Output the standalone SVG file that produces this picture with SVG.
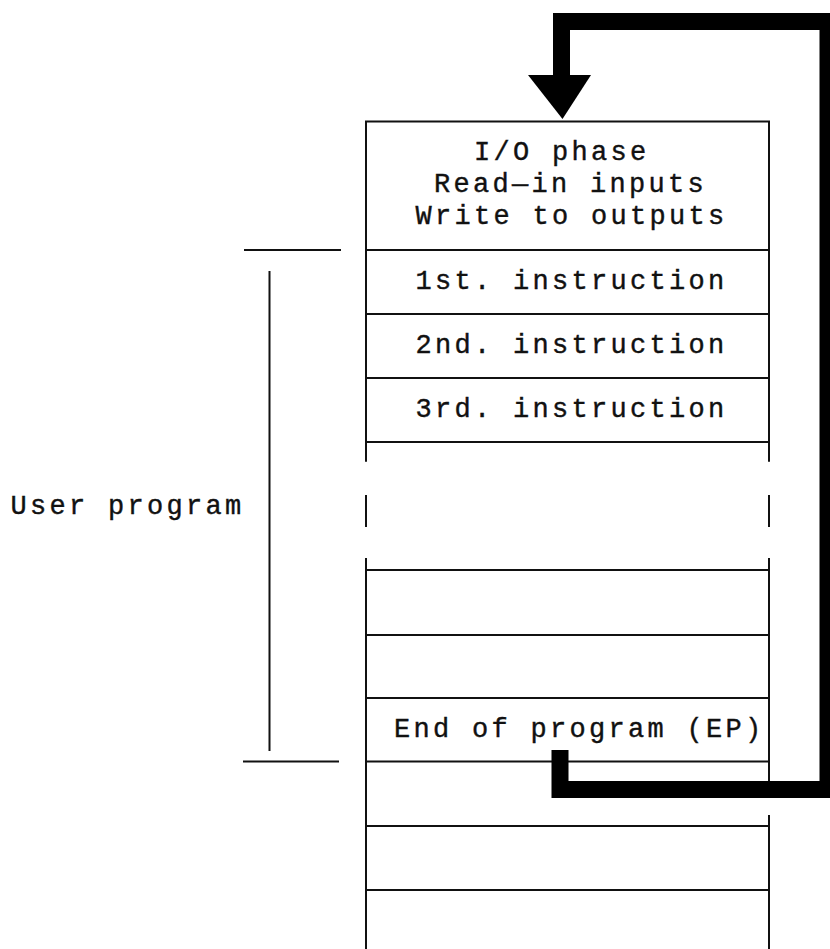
<svg xmlns="http://www.w3.org/2000/svg" width="830" height="949" viewBox="0 0 830 949">
<style>
  .t { font-family: "Liberation Mono", "Courier New", monospace; font-size: 27px; letter-spacing: 3.3px; fill: #111; stroke: #111; stroke-width: 0.4px; }
  .ln { stroke: #111; stroke-width: 2; fill: none; }
  .thin { stroke: #111; stroke-width: 2; fill: none; }
  .loop { stroke: #000; stroke-width: 17; fill: none; stroke-linejoin: miter; stroke-linecap: butt; }
</style>
<rect width="830" height="949" fill="#fff"/>

<g id="frame">
  <path class="ln" d="M366,121.5 V461.7 M366,495 V527 M366,558 V949"/>
  <path class="ln" d="M769,121.5 V461.7 M769,495 V527 M769,558 V782 M769,815 V949"/>
</g>

<g id="io-phase">
  <line class="ln" x1="365" y1="121.5" x2="770" y2="121.5"/>
  <text class="t" x="474" y="160">I/O phase</text>
  <text class="t" x="434" y="192">Read—in inputs</text>
  <text class="t" x="415.5" y="224">Write to outputs</text>
</g>
<g id="instr1">
  <line class="ln" x1="366" y1="250" x2="769" y2="250"/>
  <text class="t" x="415.5" y="288.5">1st. instruction</text>
</g>
<g id="instr2">
  <line class="ln" x1="366" y1="314" x2="769" y2="314"/>
  <text class="t" x="415.5" y="352.5">2nd. instruction</text>
</g>
<g id="instr3">
  <line class="ln" x1="366" y1="378" x2="769" y2="378"/>
  <text class="t" x="415.5" y="416.5">3rd. instruction</text>
</g>
<g id="row-gap">
  <line class="ln" x1="366" y1="442" x2="769" y2="442"/>
</g>
<g id="row-a">
  <line class="ln" x1="366" y1="570" x2="769" y2="570"/>
</g>
<g id="row-b">
  <line class="ln" x1="366" y1="635" x2="769" y2="635"/>
</g>
<g id="end-of-program">
  <line class="ln" x1="366" y1="698" x2="769" y2="698"/>
  <text class="t" x="394" y="736.5">End of program (EP)</text>
</g>
<g id="row-c">
  <line class="ln" x1="366" y1="761.5" x2="769" y2="761.5"/>
</g>
<g id="row-d">
  <line class="ln" x1="366" y1="826" x2="769" y2="826"/>
</g>
<g id="row-e">
  <line class="ln" x1="366" y1="890" x2="769" y2="890"/>
</g>

<g id="user-program">
  <line class="thin" x1="244" y1="250" x2="341" y2="250"/>
  <line class="thin" x1="243" y1="761.5" x2="339" y2="761.5"/>
  <line class="thin" x1="269.5" y1="271" x2="269.5" y2="751"/>
  <text class="t" x="10.5" y="513.5">User program</text>
</g>

<g id="connectors">
  <path class="loop" d="M560,750 V789.5 H828 V21.5 H561.5 V76"/>
  <polygon points="528,75 591,75 562.5,119" fill="#000"/>
</g>
</svg>
